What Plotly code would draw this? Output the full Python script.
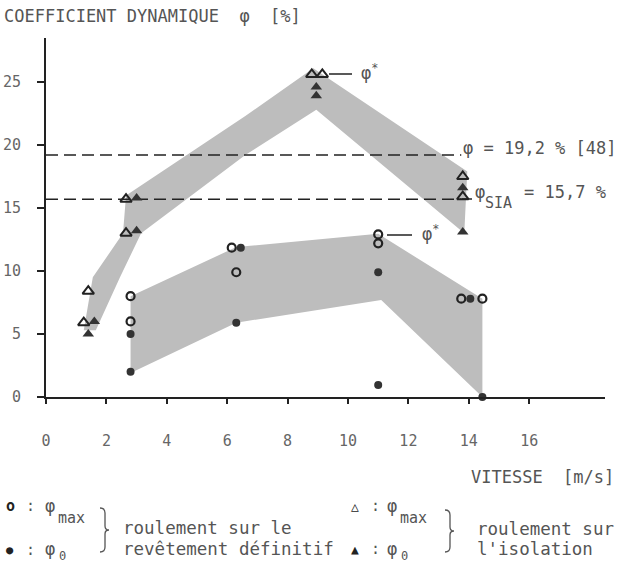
import plotly.graph_objects as go

# points: vitesse [m/s] / coefficient [%]
rev_max_x = [2.8, 2.8, 6.15, 6.3, 11.0, 11.0, 13.75, 14.45]
rev_max_y = [8.0, 6.0, 11.85, 9.9, 12.9, 12.2, 7.8, 7.8]
rev_0_x = [2.8, 2.8, 6.45, 6.3, 11.0, 11.0, 14.05, 14.45]
rev_0_y = [5.0, 2.0, 11.85, 5.9, 9.9, 0.95, 7.8, 0.0]

iso_max_x = [1.4, 1.25, 2.65, 2.65, 8.8, 9.15, 13.8, 13.8]
iso_max_y = [8.4, 5.9, 15.7, 13.0, 25.6, 25.6, 17.5, 15.9]
iso_0_x = [1.6, 1.4, 3.0, 3.0, 8.95, 8.95, 13.8, 13.8]
iso_0_y = [6.0, 5.0, 15.8, 13.2, 24.6, 23.9, 16.6, 13.1]

# grey envelopes
band_iso_x = [1.25, 1.55, 2.55, 2.65, 6.6, 8.85, 13.95, 13.85, 8.95, 6.6, 3.15, 2.45, 1.65]
band_iso_y = [5.3, 9.5, 13.0, 16.0, 22.3, 26.1, 17.9, 13.0, 22.8, 19.2, 13.0, 9.5, 5.3]
band_rev_x = [2.8, 6.3, 11.0, 14.45, 14.45, 11.1, 6.3, 2.8]
band_rev_y = [8.0, 11.9, 12.95, 7.8, 0.0, 7.7, 5.9, 1.9]

phi_48 = 19.2
phi_sia = 15.7
line_end = 13.75

x_ticks = [0, 2, 4, 6, 8, 10, 12, 14, 16]
y_ticks = [0, 5, 10, 15, 20, 25]

FONT = "DejaVu Sans Mono"
TXT = "#555555"
INK = "#222222"

ML, MR, MT, MB = 46, 13, 38, 167
W = 618 - ML - MR
H = 564 - MT - MB
x_max = W / 30.2
y_max = H / 12.6


def px(xp, yp):
    return (xp - ML) / W, (MT + H - yp) / H


fig = go.Figure()

fig.add_trace(go.Scatter(x=band_rev_x, y=band_rev_y, fill="toself", fillcolor="#bdbdbd",
                         line=dict(width=0), mode="lines", hoverinfo="skip"))
fig.add_trace(go.Scatter(x=band_iso_x, y=band_iso_y, fill="toself", fillcolor="#bdbdbd",
                         line=dict(width=0), mode="lines", hoverinfo="skip"))

for yv in [phi_48, phi_sia]:
    fig.add_trace(go.Scatter(x=[0, line_end], y=[yv, yv], mode="lines",
                             line=dict(color=INK, width=1.5, dash="12px,6px")))

fig.add_trace(go.Scatter(x=rev_max_x, y=rev_max_y, mode="markers", cliponaxis=False,
                         marker=dict(symbol="circle-open", size=8, color=INK, line=dict(width=2.2))))
fig.add_trace(go.Scatter(x=rev_0_x, y=rev_0_y, mode="markers", cliponaxis=False,
                         marker=dict(symbol="circle", size=8, color="#333")))
fig.add_trace(go.Scatter(x=iso_max_x, y=iso_max_y, mode="markers", cliponaxis=False,
                         marker=dict(symbol="triangle-up-open", size=10, color=INK, line=dict(width=2))))
fig.add_trace(go.Scatter(x=iso_0_x, y=iso_0_y, mode="markers", cliponaxis=False,
                         marker=dict(symbol="triangle-up", size=10, color="#333")))

ann = []


def text(t, xp, yp, size=17, anchor="left", color=TXT):
    x, y = px(xp, yp)
    ann.append(dict(text=t, x=x, y=y, xref="paper", yref="paper", showarrow=False,
                    xanchor=anchor, yanchor="middle", font=dict(family=FONT, size=size, color=color)))


text("COEFFICIENT DYNAMIQUE  φ  [%]", 2, 16)
text("VITESSE  [m/s]", 616, 477, anchor="right")
text("φ = 19,2 % [48]", 461, 148)
text("φ", 473, 192)
text("SIA", 483, 203, size=15)
text("= 15,7 %", 522, 192)
text("φ<sup>*</sup>", 359, 72)
text("φ<sup>*</sup>", 420, 233)

# legend
text("<b>o</b>", 10, 506, size=15, anchor="center", color=INK)
text(":", 30, 506, size=15, anchor="center")
text("φ", 50, 506, anchor="center")
text("max", 56, 518, size=15)
text("●", 10, 550, size=12, anchor="center", color=INK)
text(":", 30, 550, size=15, anchor="center")
text("φ", 50, 549, anchor="center")
text("0", 57, 556, size=12)
text("roulement sur le", 121, 528, size=17.5)
text("revêtement définitif", 121, 549, size=17.5)
text("△", 355, 506, size=13, anchor="center", color=INK)
text(":", 375, 506, size=15, anchor="center")
text("φ", 392, 506, anchor="center")
text("max", 398, 518, size=15)
text("▲", 355, 549, size=13, anchor="center", color=INK)
text(":", 375, 549, size=15, anchor="center")
text("φ", 392, 549, anchor="center")
text("0", 399, 556, size=12)
text("roulement sur", 475, 529, size=17.5)
text("l'isolation", 475, 549, size=17.5)

shapes = []


def seg(x0, y0, x1, y1):
    a, b = px(x0, y0)
    c, d = px(x1, y1)
    shapes.append(dict(type="line", xref="paper", yref="paper", x0=a, y0=b, x1=c, y1=d,
                       line=dict(color=INK, width=1.5)))


def path(points, fill=None, width=1.3):
    parts = []
    for cmd, pts in points:
        coords = " ".join("%.5f,%.5f" % px(*p) for p in pts)
        parts.append(cmd + " " + coords)
    d = " ".join(parts)
    if fill:
        d += " Z"
    shapes.append(dict(type="path", xref="paper", yref="paper", path=d,
                       fillcolor=fill, line=dict(color=INK if fill else TXT, width=0 if fill else width)))


def brace(x, y0, y1):
    ym = (y0 + y1) / 2
    path([("M", [(x, y0)]), ("Q", [(x + 5, y0), (x + 5, y0 + 5)]), ("L", [(x + 5, ym - 4)]),
          ("Q", [(x + 5, ym), (x + 9, ym)]), ("Q", [(x + 5, ym), (x + 5, ym + 4)]),
          ("L", [(x + 5, y1 - 5)]), ("Q", [(x + 5, y1), (x, y1)])])


seg(329, 74, 352, 74)
seg(387, 235, 412, 235)
seg(462, 199, 472, 199)
brace(100, 508, 552)
brace(445, 510, 552)

# arrow heads of the axes
path([("M", [(ML - 6, MT + 26)]), ("L", [(ML, MT - 2), (ML + 6, MT + 26)])], fill=INK)
path([("M", [(ML + W - 28, MT + H - 6)]), ("L", [(ML + W + 1, MT + H), (ML + W - 28, MT + H + 6)])], fill=INK)

fig.update_layout(
    width=618, height=564,
    margin=dict(l=ML, r=MR, t=MT, b=MB, autoexpand=False),
    paper_bgcolor="white", plot_bgcolor="white",
    showlegend=False,
    annotations=ann, shapes=shapes,
    font=dict(family=FONT, color=TXT),
    xaxis=dict(range=[0, x_max], tickvals=x_ticks, showgrid=False, zeroline=False,
               showline=True, linecolor=INK, linewidth=2, ticks="outside", ticklen=5,
               tickwidth=2, tickcolor=INK, ticklabelstandoff=24, automargin=False,
               tickfont=dict(family=FONT, size=15, color="#666")),
    yaxis=dict(range=[0, y_max], tickvals=y_ticks, showgrid=False, zeroline=False,
               showline=True, linecolor=INK, linewidth=2, ticks="outside", ticklen=7,
               tickwidth=2, tickcolor=INK, ticklabelstandoff=13, automargin=False,
               tickfont=dict(family=FONT, size=15, color="#666")),
)

# the page's default body margin would push the figure 8 px down and right
fig.write_html("out.html", config={"displayModeBar": False},
               post_script="document.body.style.margin='0';document.body.style.overflow='hidden';")
